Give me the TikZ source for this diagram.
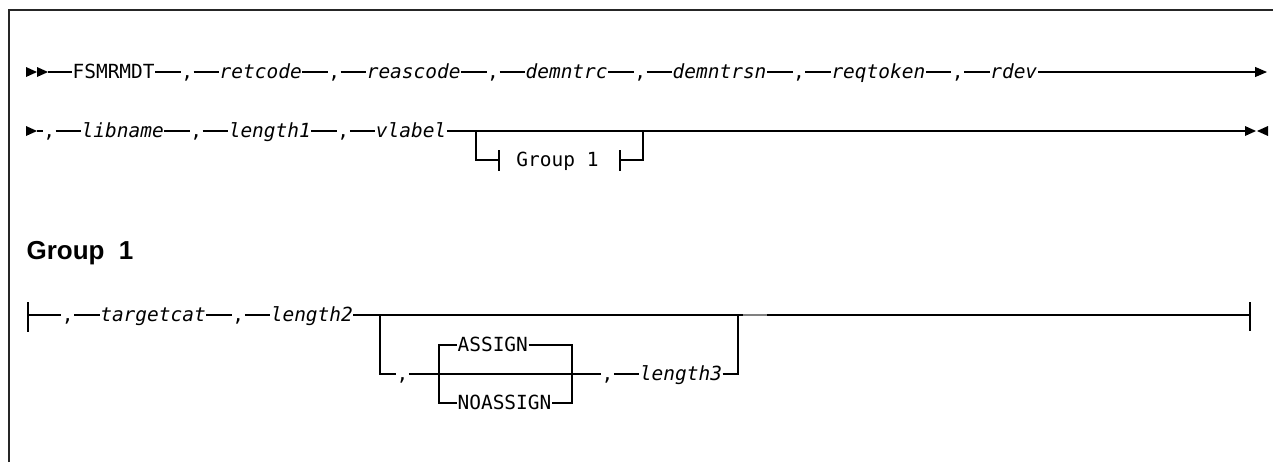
\documentclass[tikz,border=0pt]{standalone}
\usepackage{fontspec}
\setmonofont{DejaVu Sans Mono}
\newfontfamily\hdfont{Liberation Sans}
\usetikzlibrary{positioning,arrows.meta}
\tikzset{
  syn/.style = {inner sep=0pt, text height=9.8pt, text depth=0pt,
    font=\ttfamily\fontsize{14.6}{17}\selectfont},
  kw/.style = {syn},% keyword, upright
  var/.style = {syn, font=\ttfamily\itshape\fontsize{14.6}{17}\selectfont},% variable, italic
  comma/.style = {syn, minimum width=8.7pt},% comma cell
  hd/.style = {inner sep=0pt, font=\hdfont\bfseries\fontsize{19.5}{23}\selectfont},% fragment heading
  rl/.style = {line width=0.9pt}% rail
}
\newcommand\rtri[2]{\fill (#1,#2-5) -- (#1+11,#2) -- (#1,#2+5) -- cycle;}
\newcommand\ltri[2]{\fill (#1+11,#2-5) -- (#1,#2) -- (#1+11,#2+5) -- cycle;}
\begin{document}
\begin{tikzpicture}[x=0.75pt, y=-0.75pt, node distance=19.1pt, rl]
\useasboundingbox (0,0) rectangle (1273,462);
\draw[line width=1pt, black!85] (9,462) -- (9,10) -- (1273,10);
% main diagram, first line
\rtri{26}{72} \rtri{37}{72}
\coordinate (s1) at (48,72);
\node[kw, anchor=west] (fsm) at (72,72) {FSMRMDT};
\node[comma, right=of fsm] (c1) {,};
\node[var, right=of c1] (retcode) {retcode};
\node[comma, right=of retcode] (c2) {,};
\node[var, right=of c2] (reascode) {reascode};
\node[comma, right=of reascode] (c3) {,};
\node[var, right=of c3] (demntrc) {demntrc};
\node[comma, right=of demntrc] (c4) {,};
\node[var, right=of c4] (demntrsn) {demntrsn};
\node[comma, right=of demntrsn] (c5) {,};
\node[var, right=of c5] (reqtoken) {reqtoken};
\node[comma, right=of reqtoken] (c6) {,};
\node[var, right=of c6] (rdev) {rdev};
\coordinate (e1) at (1267,72);
\draw (s1) -- (fsm) -- (c1) -- (retcode) -- (c2) -- (reascode) -- (c3) -- (demntrc)
  -- (c4) -- (demntrsn) -- (c5) -- (reqtoken) -- (c6) -- (rdev);
\draw[-{Triangle[length=9pt,width=7.5pt]}] (rdev) -- (e1);
% second line
\rtri{26}{131}
\coordinate (s2) at (37,131);
\node[comma, anchor=west] (c7) at (42.7,131) {,};
\node[var, right=of c7] (libname) {libname};
\node[comma, right=of libname] (c8) {,};
\node[var, right=of c8] (length1) {length1};
\node[comma, right=of length1] (c9) {,};
\node[var, right=of c9] (vlabel) {vlabel};
\coordinate (e2) at (1245,131);
\draw (s2) -- (c7) -- (libname) -- (c8) -- (length1) -- (c9) -- (vlabel) -- (e2);
\rtri{1245}{131} \ltri{1257}{131}
% optional fragment reference
\coordinate (b1) at (476,131);
\coordinate (b2) at (643,131);
\coordinate (t1) at (499,160);
\coordinate (t2) at (620,160);
\node[kw] (grpref) at (557.5,160) {Group 1};
\draw (b1) |- (t1) (499,150) -- (499,171);
\draw (620,150) -- (620,171) (t2) -| (b2);
\draw[line width=1.5pt] (648,131) -- (672,131);
% fragment
\node[hd, anchor=base west] (g1) at (26,259) {Group\hspace{0.55em}1};
\coordinate (s3) at (28,315);
\draw (28,302) -- (28,332);
\node[comma, anchor=west] (c10) at (61.3,315) {,};
\node[var, right=of c10] (targetcat) {targetcat};
\node[comma, right=of targetcat] (c11) {,};
\node[var, right=of c11] (length2) {length2};
\coordinate (e3) at (1250,315);
\draw (s3) -- (c10) -- (targetcat) -- (c11) -- (length2) -- (e3);
\draw (1250,302) -- (1250,331);
% optional part of the fragment
\coordinate (b3) at (380,315);
\coordinate (b4) at (738,315);
\node[comma, anchor=west] (c12) at (396,374) {,};
\node[kw, anchor=west] (assign) at (457,345) {ASSIGN};
\node[kw, anchor=west] (noassign) at (457,403) {NOASSIGN};
\node[comma, anchor=west] (c13) at (601,374) {,};
\node[var, right=of c13] (length3) {length3};
\coordinate (k1) at (439,345);
\coordinate (k2) at (439,403);
\coordinate (k3) at (572,345);
\coordinate (k4) at (572,403);
\draw (b3) |- (c12);
\draw (c12) -- (c13) -- (length3) -| (b4);
\draw (assign) -- (k1) -- (k2) -- (noassign);
\draw (assign) -- (k3) -- (k4) -- (noassign);
\draw[line width=1.3pt, gray] (743,315) -- (767,315);
\end{tikzpicture}
\end{document}
